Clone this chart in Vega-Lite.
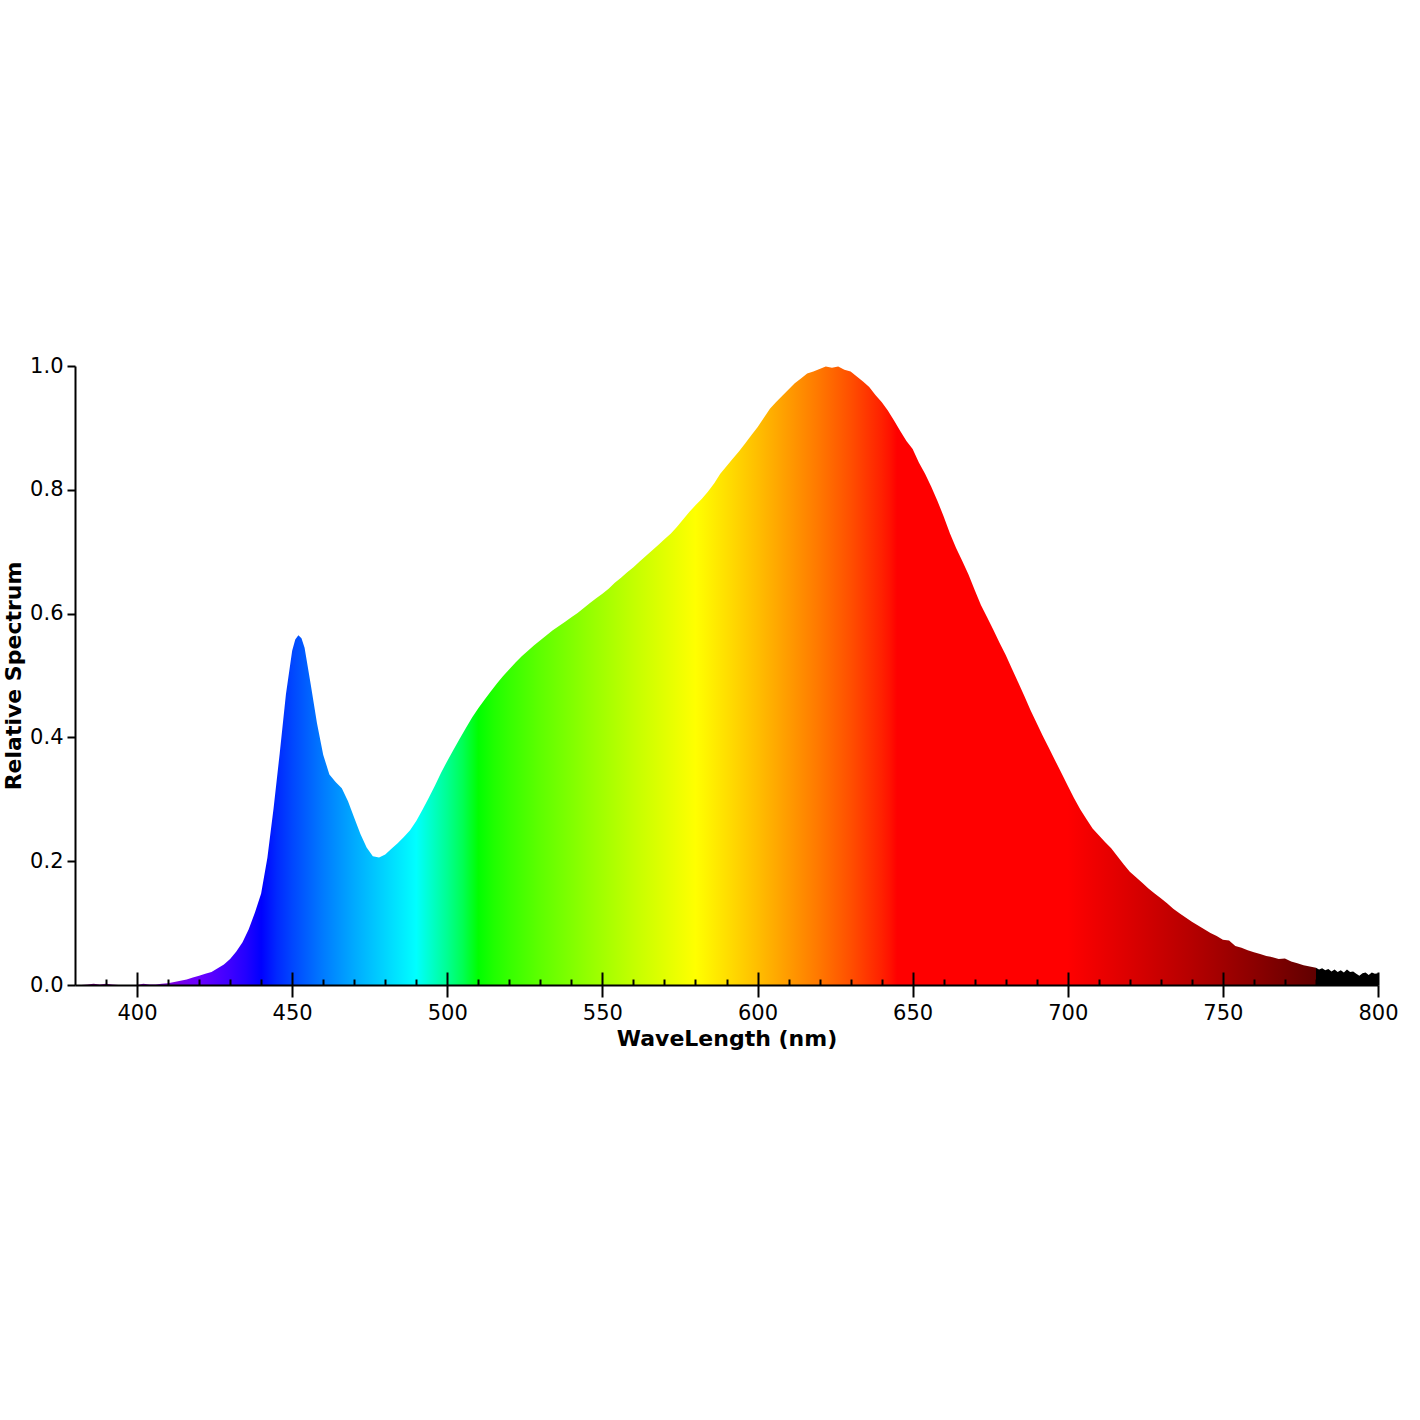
{
  "$schema": "https://vega.github.io/schema/vega-lite/v6.json",
  "width": 1303,
  "height": 619,
  "autosize": "none",
  "padding": {"left": 75, "top": 366, "right": 42, "bottom": 435},
  "background": "white",
  "config": {
    "view": {"stroke": null},
    "font": "DejaVu Sans",
    "axis": {
      "grid": false,
      "domainColor": "black",
      "domainWidth": 2,
      "tickColor": "black",
      "tickWidth": 2,
      "labelColor": "black",
      "labelFont": "DejaVu Sans",
      "labelFontSize": 21,
      "titleColor": "black",
      "titleFont": "DejaVu Sans",
      "titleFontSize": 22,
      "titleFontWeight": "bold"
    }
  },
  "data": {
    "values": [
      {"wl": 380, "v": 0}, {"wl": 382, "v": 0}, {"wl": 384, "v": 0.001}, {"wl": 386, "v": 0.002},
      {"wl": 388, "v": 0.001}, {"wl": 390, "v": 0.002}, {"wl": 392, "v": 0.001}, {"wl": 394, "v": 0},
      {"wl": 396, "v": 0}, {"wl": 398, "v": 0}, {"wl": 400, "v": 0}, {"wl": 402, "v": 0.002},
      {"wl": 404, "v": 0.001}, {"wl": 406, "v": 0.001}, {"wl": 408, "v": 0.002}, {"wl": 410, "v": 0.003},
      {"wl": 412, "v": 0.005}, {"wl": 414, "v": 0.007}, {"wl": 416, "v": 0.009}, {"wl": 418, "v": 0.012},
      {"wl": 420, "v": 0.015}, {"wl": 422, "v": 0.018}, {"wl": 424, "v": 0.021}, {"wl": 426, "v": 0.027},
      {"wl": 428, "v": 0.033}, {"wl": 430, "v": 0.042}, {"wl": 432, "v": 0.054}, {"wl": 434, "v": 0.069},
      {"wl": 436, "v": 0.09}, {"wl": 438, "v": 0.117}, {"wl": 440, "v": 0.148}, {"wl": 442, "v": 0.205},
      {"wl": 444, "v": 0.285}, {"wl": 446, "v": 0.375}, {"wl": 448, "v": 0.47}, {"wl": 450, "v": 0.54},
      {"wl": 451, "v": 0.558}, {"wl": 452, "v": 0.565}, {"wl": 453, "v": 0.56}, {"wl": 454, "v": 0.545},
      {"wl": 456, "v": 0.485}, {"wl": 458, "v": 0.423}, {"wl": 460, "v": 0.372}, {"wl": 462, "v": 0.34},
      {"wl": 464, "v": 0.328}, {"wl": 466, "v": 0.318}, {"wl": 468, "v": 0.297}, {"wl": 470, "v": 0.27},
      {"wl": 472, "v": 0.244}, {"wl": 474, "v": 0.222}, {"wl": 476, "v": 0.208}, {"wl": 478, "v": 0.206},
      {"wl": 480, "v": 0.211}, {"wl": 482, "v": 0.22}, {"wl": 484, "v": 0.229}, {"wl": 486, "v": 0.239},
      {"wl": 488, "v": 0.25}, {"wl": 490, "v": 0.265}, {"wl": 492, "v": 0.283}, {"wl": 494, "v": 0.302},
      {"wl": 496, "v": 0.322}, {"wl": 498, "v": 0.343}, {"wl": 500, "v": 0.362}, {"wl": 502, "v": 0.38},
      {"wl": 504, "v": 0.398}, {"wl": 506, "v": 0.415}, {"wl": 508, "v": 0.432}, {"wl": 510, "v": 0.447},
      {"wl": 512, "v": 0.461}, {"wl": 514, "v": 0.474}, {"wl": 516, "v": 0.487}, {"wl": 518, "v": 0.499},
      {"wl": 520, "v": 0.51}, {"wl": 522, "v": 0.521}, {"wl": 524, "v": 0.531}, {"wl": 526, "v": 0.54},
      {"wl": 528, "v": 0.549}, {"wl": 530, "v": 0.557}, {"wl": 532, "v": 0.565}, {"wl": 534, "v": 0.573},
      {"wl": 536, "v": 0.58}, {"wl": 538, "v": 0.587}, {"wl": 540, "v": 0.594}, {"wl": 542, "v": 0.601},
      {"wl": 544, "v": 0.609}, {"wl": 546, "v": 0.617}, {"wl": 548, "v": 0.625}, {"wl": 550, "v": 0.632},
      {"wl": 552, "v": 0.64}, {"wl": 554, "v": 0.65}, {"wl": 556, "v": 0.658}, {"wl": 558, "v": 0.667},
      {"wl": 560, "v": 0.675}, {"wl": 562, "v": 0.684}, {"wl": 564, "v": 0.693}, {"wl": 566, "v": 0.702},
      {"wl": 568, "v": 0.711}, {"wl": 570, "v": 0.72}, {"wl": 572, "v": 0.729}, {"wl": 574, "v": 0.74},
      {"wl": 576, "v": 0.752}, {"wl": 578, "v": 0.764}, {"wl": 580, "v": 0.775}, {"wl": 582, "v": 0.785},
      {"wl": 584, "v": 0.797}, {"wl": 586, "v": 0.81}, {"wl": 588, "v": 0.826}, {"wl": 590, "v": 0.838},
      {"wl": 592, "v": 0.85}, {"wl": 594, "v": 0.862}, {"wl": 596, "v": 0.875}, {"wl": 598, "v": 0.888},
      {"wl": 600, "v": 0.901}, {"wl": 602, "v": 0.916}, {"wl": 604, "v": 0.931}, {"wl": 606, "v": 0.942},
      {"wl": 608, "v": 0.952}, {"wl": 610, "v": 0.962}, {"wl": 612, "v": 0.972}, {"wl": 614, "v": 0.98},
      {"wl": 616, "v": 0.988}, {"wl": 618, "v": 0.991}, {"wl": 620, "v": 0.995}, {"wl": 622, "v": 0.999},
      {"wl": 624, "v": 0.997}, {"wl": 626, "v": 0.999}, {"wl": 628, "v": 0.994}, {"wl": 630, "v": 0.991},
      {"wl": 632, "v": 0.983}, {"wl": 634, "v": 0.975}, {"wl": 636, "v": 0.966}, {"wl": 638, "v": 0.953},
      {"wl": 640, "v": 0.942}, {"wl": 642, "v": 0.928}, {"wl": 644, "v": 0.912}, {"wl": 646, "v": 0.895},
      {"wl": 648, "v": 0.879}, {"wl": 650, "v": 0.866}, {"wl": 652, "v": 0.844}, {"wl": 654, "v": 0.826},
      {"wl": 656, "v": 0.805}, {"wl": 658, "v": 0.782}, {"wl": 660, "v": 0.757}, {"wl": 662, "v": 0.73},
      {"wl": 664, "v": 0.706}, {"wl": 666, "v": 0.685}, {"wl": 668, "v": 0.663}, {"wl": 670, "v": 0.638},
      {"wl": 672, "v": 0.614}, {"wl": 674, "v": 0.594}, {"wl": 676, "v": 0.574}, {"wl": 678, "v": 0.553},
      {"wl": 680, "v": 0.533}, {"wl": 682, "v": 0.511}, {"wl": 684, "v": 0.489}, {"wl": 686, "v": 0.467},
      {"wl": 688, "v": 0.444}, {"wl": 690, "v": 0.423}, {"wl": 692, "v": 0.402}, {"wl": 694, "v": 0.382},
      {"wl": 696, "v": 0.362}, {"wl": 698, "v": 0.342}, {"wl": 700, "v": 0.322}, {"wl": 702, "v": 0.302},
      {"wl": 704, "v": 0.284}, {"wl": 706, "v": 0.268}, {"wl": 708, "v": 0.253}, {"wl": 710, "v": 0.242},
      {"wl": 712, "v": 0.231}, {"wl": 714, "v": 0.221}, {"wl": 716, "v": 0.208}, {"wl": 718, "v": 0.195},
      {"wl": 720, "v": 0.183}, {"wl": 722, "v": 0.174}, {"wl": 724, "v": 0.165}, {"wl": 726, "v": 0.156},
      {"wl": 728, "v": 0.148}, {"wl": 730, "v": 0.14}, {"wl": 732, "v": 0.132}, {"wl": 734, "v": 0.123},
      {"wl": 736, "v": 0.116}, {"wl": 738, "v": 0.109}, {"wl": 740, "v": 0.102}, {"wl": 742, "v": 0.096},
      {"wl": 744, "v": 0.09}, {"wl": 746, "v": 0.084}, {"wl": 748, "v": 0.079}, {"wl": 750, "v": 0.073},
      {"wl": 752, "v": 0.072}, {"wl": 754, "v": 0.063}, {"wl": 756, "v": 0.06}, {"wl": 758, "v": 0.056},
      {"wl": 760, "v": 0.053}, {"wl": 762, "v": 0.05}, {"wl": 764, "v": 0.047}, {"wl": 766, "v": 0.045},
      {"wl": 768, "v": 0.042}, {"wl": 770, "v": 0.043}, {"wl": 772, "v": 0.038}, {"wl": 774, "v": 0.035},
      {"wl": 776, "v": 0.032}, {"wl": 778, "v": 0.03}, {"wl": 780, "v": 0.028}, {"wl": 781, "v": 0.025},
      {"wl": 782, "v": 0.027}, {"wl": 783, "v": 0.024}, {"wl": 784, "v": 0.026}, {"wl": 785, "v": 0.022},
      {"wl": 786, "v": 0.025}, {"wl": 787, "v": 0.021}, {"wl": 788, "v": 0.024}, {"wl": 789, "v": 0.02},
      {"wl": 790, "v": 0.025}, {"wl": 791, "v": 0.021}, {"wl": 792, "v": 0.022}, {"wl": 793, "v": 0.018},
      {"wl": 794, "v": 0.015}, {"wl": 795, "v": 0.019}, {"wl": 796, "v": 0.02}, {"wl": 797, "v": 0.016},
      {"wl": 798, "v": 0.02}, {"wl": 799, "v": 0.018}, {"wl": 800, "v": 0.019}
    ]
  },
  "encoding": {
    "y": {
      "field": "v",
      "type": "quantitative",
      "scale": {"domain": [0, 1], "nice": false},
      "axis": {
        "title": "Relative Spectrum",
        "values": [0, 0.2, 0.4, 0.6, 0.8, 1.0],
        "format": ".1f",
        "tickSize": 8,
        "labelPadding": 4,
        "titlePadding": 4,
        "zindex": 1
      }
    }
  },
  "layer": [
    {
      "mark": {
        "type": "area",
        "interpolate": "linear",
        "color": {
          "gradient": "linear",
          "x1": 0, "y1": 0, "x2": 1, "y2": 0,
          "stops": [
            {"offset": 0, "color": "#610061"},
            {"offset": 0.02381, "color": "#7a008c"},
            {"offset": 0.04762, "color": "#8300b5"},
            {"offset": 0.07143, "color": "#7e00db"},
            {"offset": 0.09524, "color": "#6a00ff"},
            {"offset": 0.11905, "color": "#3d00ff"},
            {"offset": 0.13095, "color": "#2300ff"},
            {"offset": 0.14286, "color": "#0000ff"},
            {"offset": 0.15476, "color": "#0028ff"},
            {"offset": 0.16667, "color": "#0046ff"},
            {"offset": 0.19048, "color": "#007bff"},
            {"offset": 0.21429, "color": "#00aaff"},
            {"offset": 0.2381, "color": "#00d5ff"},
            {"offset": 0.2619, "color": "#00ffff"},
            {"offset": 0.28571, "color": "#00ff92"},
            {"offset": 0.29762, "color": "#00ff54"},
            {"offset": 0.30952, "color": "#00ff00"},
            {"offset": 0.32143, "color": "#1fff00"},
            {"offset": 0.33333, "color": "#36ff00"},
            {"offset": 0.35714, "color": "#5eff00"},
            {"offset": 0.39286, "color": "#92ff00"},
            {"offset": 0.42857, "color": "#c3ff00"},
            {"offset": 0.45238, "color": "#e1ff00"},
            {"offset": 0.47619, "color": "#ffff00"},
            {"offset": 0.4881, "color": "#ffef00"},
            {"offset": 0.5, "color": "#ffdf00"},
            {"offset": 0.52381, "color": "#ffbe00"},
            {"offset": 0.55357, "color": "#ff9200"},
            {"offset": 0.57143, "color": "#ff7700"},
            {"offset": 0.59524, "color": "#ff4f00"},
            {"offset": 0.61905, "color": "#ff2100"},
            {"offset": 0.625, "color": "#ff1300"},
            {"offset": 0.63095, "color": "#ff0000"},
            {"offset": 0.7619, "color": "#ff0000"},
            {"offset": 0.80952, "color": "#db0000"},
            {"offset": 0.85714, "color": "#b50000"},
            {"offset": 0.90476, "color": "#8c0000"},
            {"offset": 0.95238, "color": "#610000"},
            {"offset": 0.95238, "color": "#000000"},
            {"offset": 1, "color": "#000000"}
          ]
        }
      },
      "encoding": {
        "x": {
          "field": "wl",
          "type": "quantitative",
          "scale": {"domain": [380, 800], "nice": false, "zero": false},
          "axis": {
            "orient": "bottom",
            "title": "WaveLength (nm)",
            "values": [400, 450, 500, 550, 600, 650, 700, 750, 800],
            "tickSize": 12,
            "labelPadding": 5,
            "titlePadding": 5,
            "labelFlush": false,
            "zindex": 1
          }
        }
      }
    },
    {
      "mark": {"type": "line", "opacity": 0},
      "encoding": {
        "x": {
          "field": "wl",
          "type": "quantitative",
          "scale": {"domain": [380, 800], "nice": false, "zero": false},
          "axis": {
            "orient": "bottom",
            "title": null,
            "labels": false,
            "domain": false,
            "zindex": 2,
            "values": [390, 400, 410, 420, 430, 440, 450, 460, 470, 480, 490, 500, 510, 520, 530, 540, 550, 560, 570, 580, 590, 600, 610, 620, 630, 640, 650, 660, 670, 680, 690, 700, 710, 720, 730, 740, 750, 760, 770, 780, 790, 800],
            "tickSize": {"condition": {"test": "datum.value % 50 === 0", "value": -13}, "value": -6}
          }
        }
      }
    }
  ],
  "resolve": {"axis": {"x": "independent"}}
}
